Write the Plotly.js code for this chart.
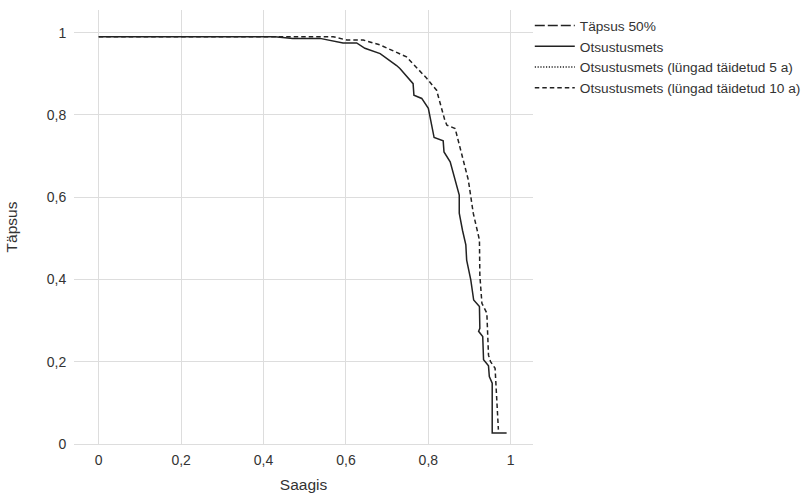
<!DOCTYPE html>
<html>
<head>
<meta charset="utf-8">
<script src="https://cdn.plot.ly/plotly-3.0.1.min.js"></script>
<style>html,body{margin:0;padding:0;background:#fff}#chart{width:810px;height:494px}</style>
</head>
<body>
<div id="chart"></div>
<script>
const seriesNames = ["Täpsus 50%", "Otsustusmets", "Otsustusmets (lüngad täidetud 5 a)", "Otsustusmets (lüngad täidetud 10 a)"];

const rfRecall = [0, 0.4275, 0.471, 0.537, 0.593, 0.626, 0.646, 0.683, 0.723, 0.731, 0.763, 0.765, 0.784, 0.800, 0.814, 0.836, 0.838, 0.853, 0.875, 0.875, 0.883, 0.891, 0.893, 0.903, 0.910, 0.924, 0.925, 0.922, 0.932, 0.934, 0.946, 0.948, 0.955, 0.955, 0.99];
const rfPrecision = [0.99, 0.99, 0.986, 0.986, 0.975, 0.975, 0.962, 0.949, 0.920, 0.913, 0.876, 0.848, 0.840, 0.816, 0.745, 0.737, 0.710, 0.686, 0.605, 0.561, 0.519, 0.484, 0.447, 0.399, 0.350, 0.334, 0.281, 0.274, 0.261, 0.205, 0.19, 0.164, 0.148, 0.027, 0.027];

const rf10Recall = [0, 0.456, 0.569, 0.602, 0.642, 0.683, 0.747, 0.796, 0.820, 0.840, 0.845, 0.865, 0.897, 0.909, 0.924, 0.925, 0.930, 0.942, 0.946, 0.951, 0.962, 0.970];
const rf10Precision = [0.99, 0.99, 0.99, 0.982, 0.982, 0.970, 0.941, 0.889, 0.860, 0.787, 0.775, 0.767, 0.642, 0.561, 0.496, 0.41, 0.342, 0.318, 0.216, 0.2, 0.184, 0.035];

const xTicks = [0, 0.2, 0.4, 0.6, 0.8, 1];
const yTicks = [0, 0.2, 0.4, 0.6, 0.8, 1];

const lineColor = '#222222';
const traces = [
  {x: [null], y: [null], name: seriesNames[0], mode: 'lines', line: {color: lineColor, width: 1.5, dash: '10px,3px'}},
  {x: rfRecall, y: rfPrecision, name: seriesNames[1], mode: 'lines', line: {color: lineColor, width: 1.5}},
  {x: [null], y: [null], name: seriesNames[2], mode: 'lines', line: {color: lineColor, width: 1.5, dash: '1.2px,1.6px'}},
  {x: rf10Recall, y: rf10Precision, name: seriesNames[3], mode: 'lines', line: {color: lineColor, width: 1.5, dash: '4.5px,3px'}}
];

const layout = {
  width: 810, height: 494,
  margin: {l: 74, r: 277, t: 10, b: 50, autoexpand: false},
  paper_bgcolor: '#fff', plot_bgcolor: '#fff',
  separators: ', ',
  font: {family: 'Liberation Sans, Arial, sans-serif', size: 14, color: '#333'},
  showlegend: true,
  legend: {x: 0.993, xanchor: 'left', y: 1.0, yanchor: 'top', font: {size: 13.7, color: '#333'}, bgcolor: 'rgba(0,0,0,0)', itemwidth: 40},
  xaxis: {
    range: [-0.06, 1.054], tickvals: xTicks, ticktext: xTicks.map(v => String(v).replace('.', ',')),
    tickfont: {size: 14, color: '#333'},
    showgrid: true, gridcolor: '#dddddd', gridwidth: 1, zeroline: false,
    showline: true, linecolor: '#dddddd', linewidth: 1, ticks: 'outside', ticklen: 3, tickcolor: 'rgba(0,0,0,0)',
    title: {text: 'Saagis', font: {size: 15.5, color: '#333'}, standoff: 12}
  },
  yaxis: {
    range: [0, 1.055], tickvals: yTicks, ticktext: yTicks.map(v => String(v).replace('.', ',')),
    tickfont: {size: 14, color: '#333'},
    showgrid: true, gridcolor: '#dddddd', gridwidth: 1, zeroline: false, showline: false,
    ticks: 'outside', ticklen: 4, tickcolor: 'rgba(0,0,0,0)',
    title: {text: 'Täpsus', font: {size: 15.5, color: '#333'}, standoff: 25}
  }
};

Plotly.newPlot('chart', traces, layout, {displayModeBar: false, staticPlot: true});
</script>
</body>
</html>
